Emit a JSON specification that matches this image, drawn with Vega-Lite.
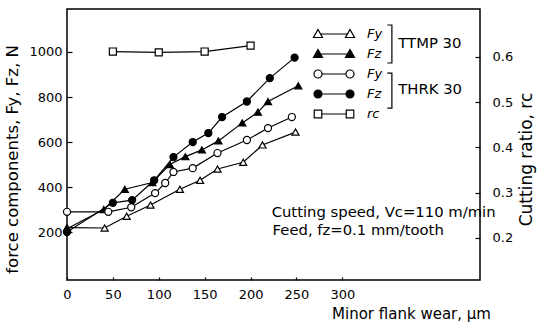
{
  "$schema": "https://vega.github.io/schema/vega-lite/v6.json",
  "width": 413,
  "height": 271,
  "autosize": {"type": "none"},
  "padding": {"left": 67, "top": 9, "right": 59, "bottom": 51},
  "background": "white",
  "config": {
    "font": "DejaVu Sans",
    "view": {"stroke": "black", "strokeWidth": 1.5},
    "axis": {"grid": false, "domain": false, "labelColor": "black", "titleColor": "black", "tickColor": "black", "labelFontSize": 13, "titleFontSize": 15, "titleFontWeight": "normal", "tickWidth": 1.2}
  },
  "datasets": {
    "forces": [
      {"series": "TTMP 30 Fy", "wear": 0, "force": 220},
      {"series": "TTMP 30 Fy", "wear": 41, "force": 218},
      {"series": "TTMP 30 Fy", "wear": 65, "force": 270},
      {"series": "TTMP 30 Fy", "wear": 91, "force": 320},
      {"series": "TTMP 30 Fy", "wear": 123, "force": 390},
      {"series": "TTMP 30 Fy", "wear": 145, "force": 430},
      {"series": "TTMP 30 Fy", "wear": 164, "force": 480},
      {"series": "TTMP 30 Fy", "wear": 192, "force": 510},
      {"series": "TTMP 30 Fy", "wear": 213, "force": 587},
      {"series": "TTMP 30 Fy", "wear": 249, "force": 644},
      {"series": "TTMP 30 Fz", "wear": 0, "force": 215},
      {"series": "TTMP 30 Fz", "wear": 40, "force": 300},
      {"series": "TTMP 30 Fz", "wear": 63, "force": 390},
      {"series": "TTMP 30 Fz", "wear": 93, "force": 420},
      {"series": "TTMP 30 Fz", "wear": 112, "force": 500},
      {"series": "TTMP 30 Fz", "wear": 129, "force": 535},
      {"series": "TTMP 30 Fz", "wear": 147, "force": 565},
      {"series": "TTMP 30 Fz", "wear": 165, "force": 605},
      {"series": "TTMP 30 Fz", "wear": 191, "force": 685},
      {"series": "TTMP 30 Fz", "wear": 208, "force": 733},
      {"series": "TTMP 30 Fz", "wear": 219, "force": 780},
      {"series": "TTMP 30 Fz", "wear": 252, "force": 850},
      {"series": "THRK 30 Fy", "wear": 0, "force": 290},
      {"series": "THRK 30 Fy", "wear": 45, "force": 290},
      {"series": "THRK 30 Fy", "wear": 70, "force": 310},
      {"series": "THRK 30 Fy", "wear": 96, "force": 373},
      {"series": "THRK 30 Fy", "wear": 107, "force": 418},
      {"series": "THRK 30 Fy", "wear": 116, "force": 467},
      {"series": "THRK 30 Fy", "wear": 137, "force": 484},
      {"series": "THRK 30 Fy", "wear": 164, "force": 551},
      {"series": "THRK 30 Fy", "wear": 196, "force": 609},
      {"series": "THRK 30 Fy", "wear": 219, "force": 662},
      {"series": "THRK 30 Fy", "wear": 245, "force": 711},
      {"series": "THRK 30 Fz", "wear": 0, "force": 200},
      {"series": "THRK 30 Fz", "wear": 50, "force": 330},
      {"series": "THRK 30 Fz", "wear": 71, "force": 342},
      {"series": "THRK 30 Fz", "wear": 95, "force": 430},
      {"series": "THRK 30 Fz", "wear": 116, "force": 533},
      {"series": "THRK 30 Fz", "wear": 137, "force": 600},
      {"series": "THRK 30 Fz", "wear": 154, "force": 640},
      {"series": "THRK 30 Fz", "wear": 169, "force": 711},
      {"series": "THRK 30 Fz", "wear": 196, "force": 780},
      {"series": "THRK 30 Fz", "wear": 221, "force": 884},
      {"series": "THRK 30 Fz", "wear": 248, "force": 975}
    ],
    "ratio": [
      {"series": "rc", "wear": 50, "ratio": 0.612},
      {"series": "rc", "wear": 100, "ratio": 0.61},
      {"series": "rc", "wear": 150, "ratio": 0.612},
      {"series": "rc", "wear": 200, "ratio": 0.625}
    ],
    "notes": [
      {"label": "TTMP 30", "wear": 361, "force": 1035},
      {"label": "THRK 30", "wear": 361, "force": 831},
      {"label": "Cutting speed, Vc=110 m/min", "wear": 223, "force": 284},
      {"label": "Feed, fz=0.1 mm/tooth", "wear": 224, "force": 205}
    ],
    "brackets": [
      {"group": "TTMP 30", "step": 1, "wear": 349, "force": 1120},
      {"group": "TTMP 30", "step": 2, "wear": 354, "force": 1120},
      {"group": "TTMP 30", "step": 3, "wear": 354, "force": 951},
      {"group": "TTMP 30", "step": 4, "wear": 349, "force": 951},
      {"group": "THRK 30", "step": 1, "wear": 349, "force": 906},
      {"group": "THRK 30", "step": 2, "wear": 354, "force": 906},
      {"group": "THRK 30", "step": 3, "wear": 354, "force": 751},
      {"group": "THRK 30", "step": 4, "wear": 349, "force": 751}
    ]
  },
  "layer": [
    {
      "encoding": {
        "x": {"field": "wear", "type": "quantitative", "scale": {"domain": [0, 450], "nice": false, "zero": false},
          "axis": {"values": [0, 50, 100, 150, 200, 250, 300], "tickSize": -3, "labelPadding": 11, "title": "Minor flank wear, μm", "titleX": 344, "titleY": 38, "titleAlign": "center", "titleBaseline": "alphabetic", "labelFlush": false}},
        "y": {"field": "force", "type": "quantitative", "scale": {"domain": [-13, 1191], "nice": false, "zero": false},
          "axis": {"orient": "left", "values": [200, 400, 600, 800, 1000], "format": "d", "tickSize": -5, "labelPadding": 10, "title": "force components, Fy, Fz, N", "titleAngle": 270, "titleX": -55, "titleY": 150, "titleAlign": "center", "titleBaseline": "middle", "titleFontSize": 16.5}}
      },
      "layer": [
        {"data": {"name": "forces"}, "mark": {"type": "line", "color": "black", "strokeWidth": 1.2}, "encoding": {"detail": {"field": "series"}}},
        {"data": {"name": "forces"}, "transform": [{"filter": "datum.series == 'TTMP 30 Fy'"}], "mark": {"type": "point", "shape": "triangle-up", "filled": true, "fill": "white", "stroke": "black", "strokeWidth": 1.2, "size": 50, "opacity": 1}},
        {"data": {"name": "forces"}, "transform": [{"filter": "datum.series == 'TTMP 30 Fz'"}], "mark": {"type": "point", "shape": "triangle-up", "filled": true, "fill": "black", "stroke": "black", "strokeWidth": 1.2, "size": 50, "opacity": 1}},
        {"data": {"name": "forces"}, "transform": [{"filter": "datum.series == 'THRK 30 Fy'"}], "mark": {"type": "point", "shape": "circle", "filled": true, "fill": "white", "stroke": "black", "strokeWidth": 1.2, "size": 50, "opacity": 1}},
        {"data": {"name": "forces"}, "transform": [{"filter": "datum.series == 'THRK 30 Fz'"}], "mark": {"type": "point", "shape": "circle", "filled": true, "fill": "black", "stroke": "black", "strokeWidth": 1.2, "size": 50, "opacity": 1}},
        {"data": {"name": "forces"}, "transform": [{"filter": "false"}],
          "mark": {"type": "point", "filled": true, "stroke": "black", "strokeWidth": 1.2, "opacity": 1},
          "encoding": {
            "shape": {"field": "series", "type": "nominal",
              "scale": {"domain": ["TTMP 30 Fy", "TTMP 30 Fz", "THRK 30 Fy", "THRK 30 Fz", "rc"],
                "range": [
                  "M-1.35,0L1.35,0M-1.6,-0.45L-1.15,0.35L-2.05,0.35ZM1.6,-0.45L2.05,0.35L1.15,0.35Z",
                  "M-1.35,0L1.35,0M-1.6,-0.45L-1.15,0.35L-2.05,0.35ZM1.6,-0.45L2.05,0.35L1.15,0.35Z",
                  "M-1.2,0L1.2,0M-1.2,0A0.4,0.4,0,1,1,-2,0A0.4,0.4,0,1,1,-1.2,0ZM2,0A0.4,0.4,0,1,1,1.2,0A0.4,0.4,0,1,1,2,0Z",
                  "M-1.2,0L1.2,0M-1.2,0A0.4,0.4,0,1,1,-2,0A0.4,0.4,0,1,1,-1.2,0ZM2,0A0.4,0.4,0,1,1,1.2,0A0.4,0.4,0,1,1,2,0Z",
                  "M-1.22,0L1.22,0M-1.98,-0.38L-1.22,-0.38L-1.22,0.38L-1.98,0.38ZM1.22,-0.38L1.98,-0.38L1.98,0.38L1.22,0.38Z"
                ]},
              "legend": {"title": null, "orient": "none", "legendX": 256, "legendY": 14, "symbolSize": 400, "labelOffset": 22, "rowPadding": 2, "padding": 0, "labelFontSize": 13, "labelFontStyle": "italic", "labelColor": "black", "symbolStrokeColor": "black", "symbolStrokeWidth": 1.2, "symbolOpacity": 1, "labelExpr": "datum.label == 'rc' ? 'rc' : slice(datum.label, 8)",
                "encode": {"symbols": {"update": {"stroke": {"value": "black"}, "strokeWidth": {"value": 1.2}, "opacity": {"value": 1}}}}}},
            "fill": {"field": "series", "type": "nominal",
              "scale": {"domain": ["TTMP 30 Fy", "TTMP 30 Fz", "THRK 30 Fy", "THRK 30 Fz", "rc"], "range": ["white", "black", "white", "black", "white"]},
              "legend": {"title": null, "orient": "none", "legendX": 256, "legendY": 14, "symbolSize": 400, "labelOffset": 22, "rowPadding": 2, "padding": 0, "labelFontSize": 13, "labelFontStyle": "italic", "labelColor": "black", "symbolStrokeColor": "black", "symbolStrokeWidth": 1.2, "symbolOpacity": 1, "labelExpr": "datum.label == 'rc' ? 'rc' : slice(datum.label, 8)",
                "encode": {"symbols": {"update": {"stroke": {"value": "black"}, "strokeWidth": {"value": 1.2}, "opacity": {"value": 1}}}}}}
          }},
        {"data": {"name": "brackets"}, "mark": {"type": "line", "color": "black", "strokeWidth": 1.2}, "encoding": {"detail": {"field": "group"}, "order": {"field": "step", "type": "quantitative"}}},
        {"data": {"name": "notes"}, "mark": {"type": "text", "align": "left", "baseline": "middle", "fontSize": 14.8, "color": "black"}, "encoding": {"text": {"field": "label"}}}
      ]
    },
    {
      "data": {"name": "ratio"},
      "encoding": {
        "x": {"field": "wear", "type": "quantitative", "scale": {"domain": [0, 450], "nice": false, "zero": false},
          "axis": {"values": [0, 50, 100, 150, 200, 250, 300], "tickSize": -3, "labelPadding": 11, "title": "Minor flank wear, μm", "titleX": 344, "titleY": 38, "titleAlign": "center", "titleBaseline": "alphabetic", "labelFlush": false}},
        "y": {"field": "ratio", "type": "quantitative", "scale": {"domain": [0.107, 0.706], "nice": false, "zero": false},
          "axis": {"orient": "right", "values": [0.2, 0.3, 0.4, 0.5, 0.6], "format": ".1f", "tickSize": -5, "labelPadding": 17, "title": "Cutting ratio, rc", "titleAngle": 270, "titleX": 46, "titleY": 150, "titleAlign": "center", "titleBaseline": "middle", "titleFontSize": 17}}
      },
      "layer": [
        {"mark": {"type": "line", "color": "black", "strokeWidth": 1.2}, "encoding": {}},
        {"mark": {"type": "point", "shape": "square", "filled": true, "fill": "white", "stroke": "black", "strokeWidth": 1.2, "size": 50, "opacity": 1}}
      ]
    }
  ],
  "resolve": {"scale": {"y": "independent"}}
}
